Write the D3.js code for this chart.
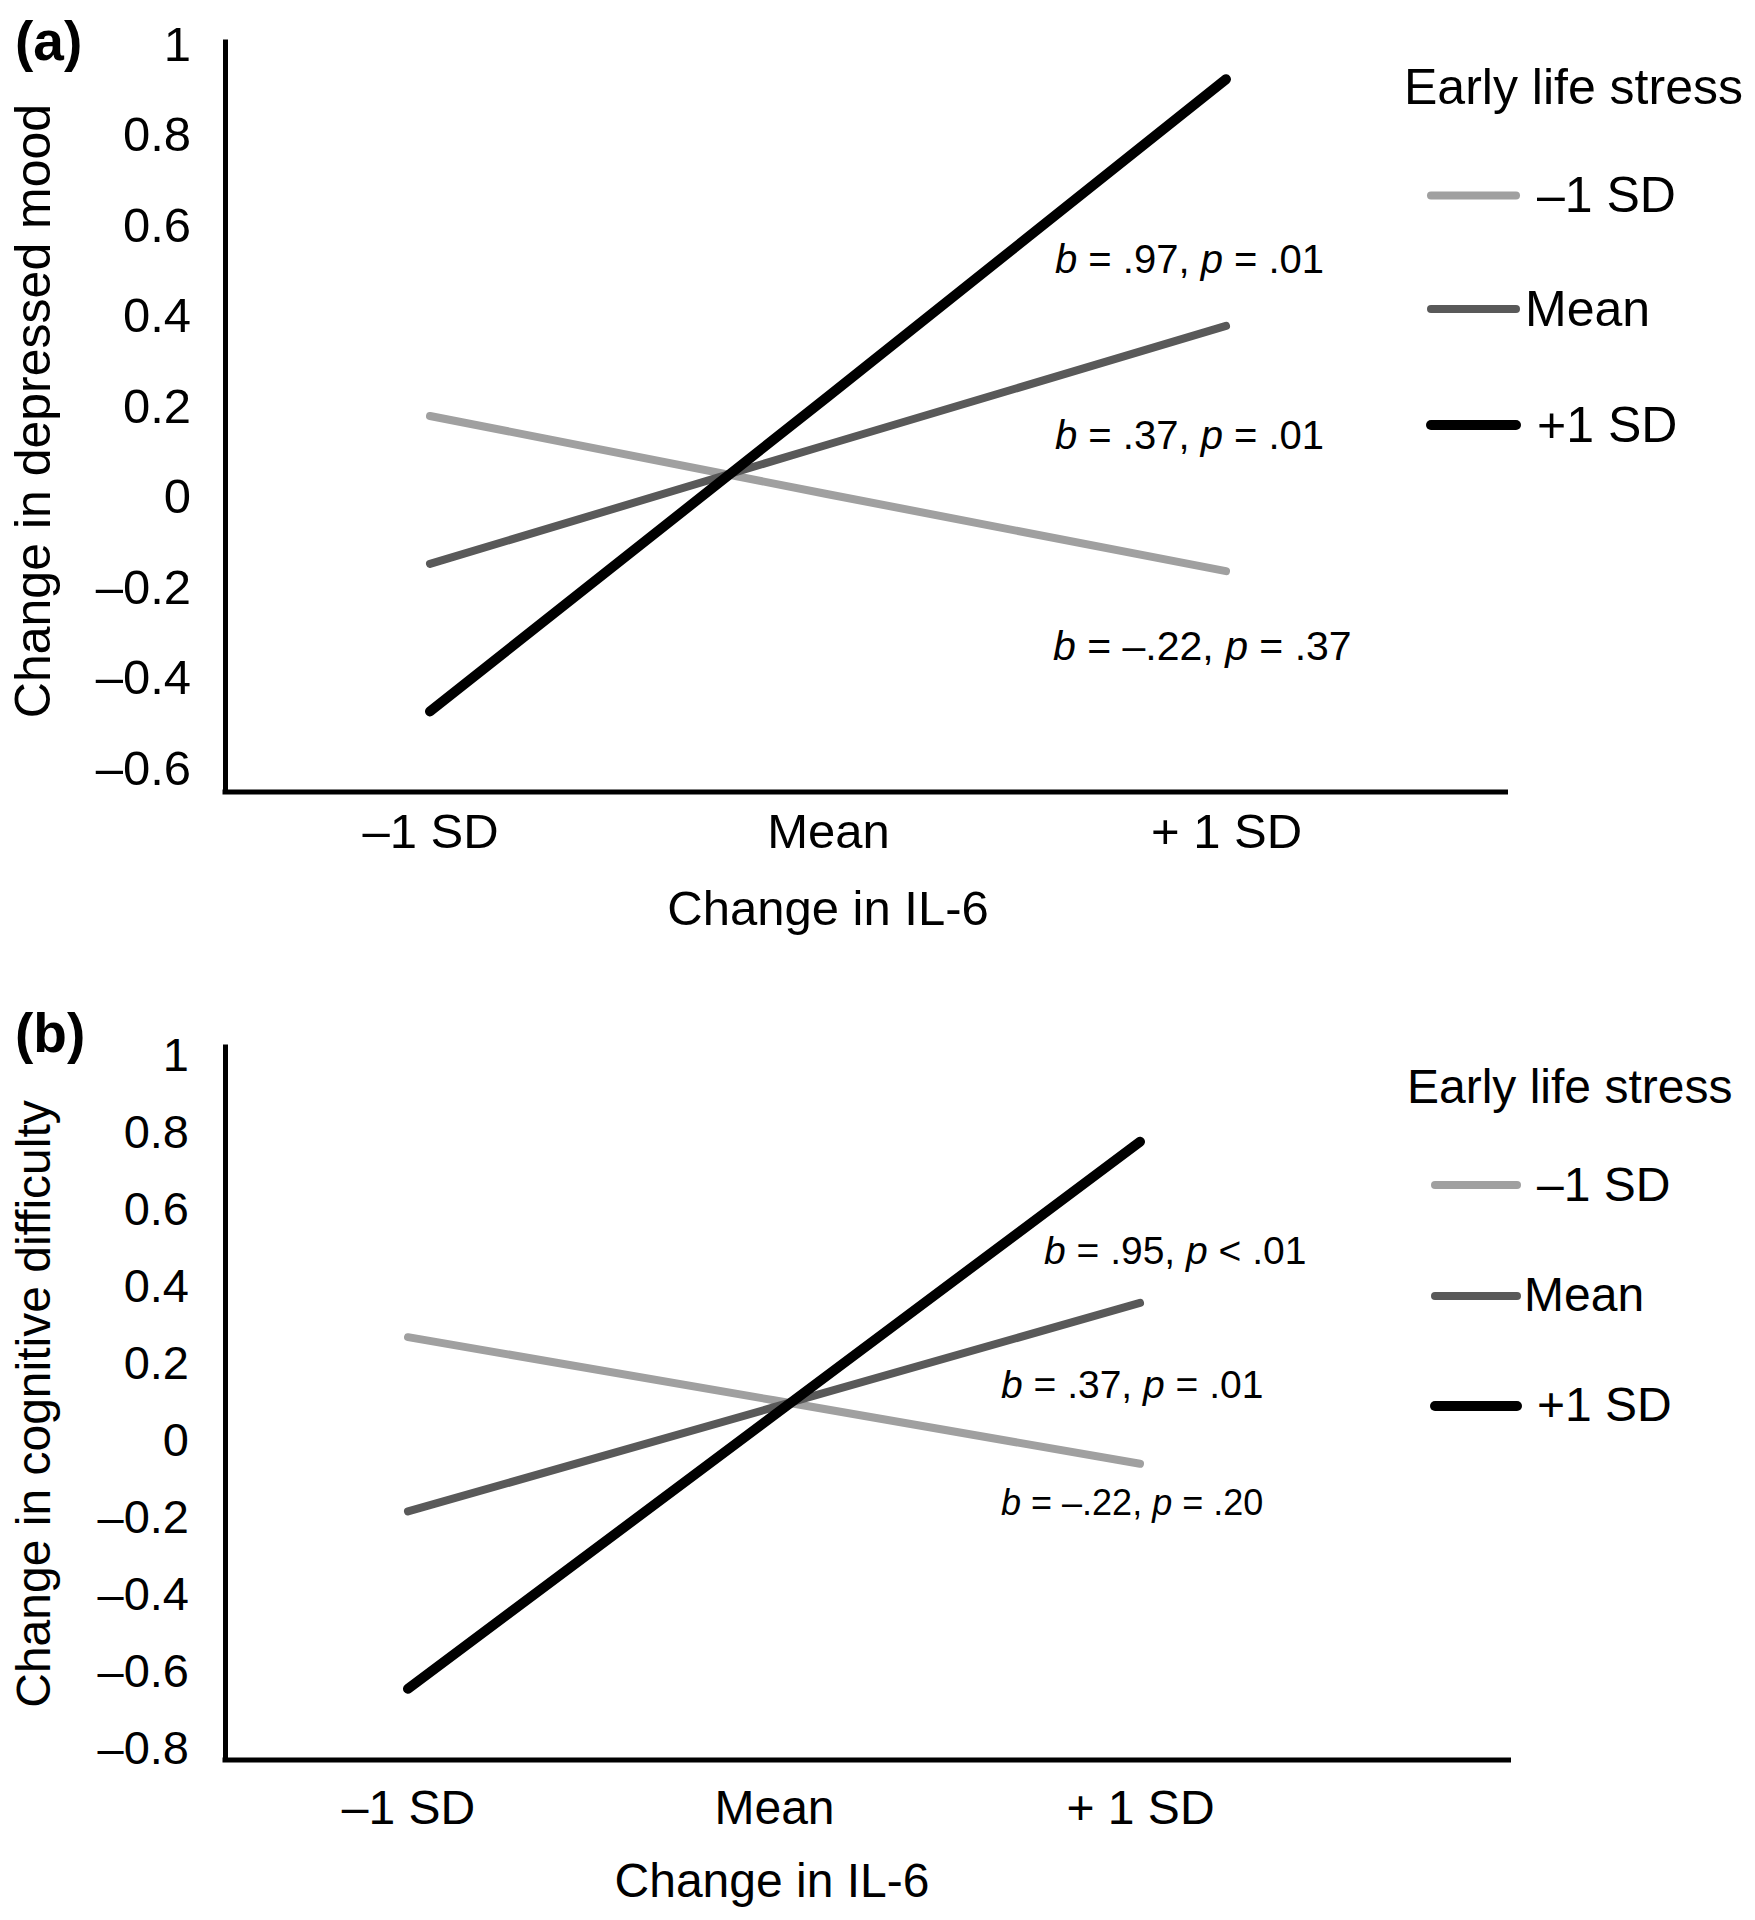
<!DOCTYPE html>
<html>
<head>
<meta charset="utf-8">
<script src="https://cdn.jsdelivr.net/npm/d3@7"></script>
<style>
  html, body { margin: 0; padding: 0; background: #fff; }
  svg { display: block; }
  text { font-family: "Liberation Sans", Arial, Helvetica, sans-serif; fill: #000; }
</style>
</head>
<body>
<svg id="chart" width="1755" height="1920"></svg>
<script>
// ---------------- DATA ----------------
const categories = ["–1 SD", "Mean", "+ 1 SD"];
const seriesNames = ["–1 SD", "Mean", "+1 SD"];
const legendTitle = "Early life stress";
const xTitle = "Change in IL-6";

// Panel (a): change in depressed mood
const moodLowELS  = [0.179, 0.006, -0.164];
const moodMeanELS = [-0.148, 0.116, 0.378];
const moodHighELS = [-0.474, 0.222, 0.923];
const moodTicks = [-0.6, -0.4, -0.2, 0, 0.2, 0.4, 0.6, 0.8, 1];
const moodStats = [
  { b: ".97", op: "=", p: ".01" },
  { b: ".37", op: "=", p: ".01" },
  { b: "–.22", op: "=", p: ".37" }
];

// Panel (b): change in cognitive difficulty
const cogLowELS  = [0.268, 0.104, -0.061];
const cogMeanELS = [-0.185, 0.086, 0.357];
const cogHighELS = [-0.646, 0.065, 0.776];
const cogTicks = [-0.8, -0.6, -0.4, -0.2, 0, 0.2, 0.4, 0.6, 0.8, 1];
const cogStats = [
  { b: ".95", op: "<", p: ".01" },
  { b: ".37", op: "=", p: ".01" },
  { b: "–.22", op: "=", p: ".20" }
];

// ---------------- STYLE / LAYOUT ----------------
const lineColors = ["#a0a0a0", "#595959", "#000000"];
const lineWidths = [8, 8, 10];

const panels = [
  {
    label: "(a)", yTitle: "Change in depressed mood",
    series: [moodLowELS, moodMeanELS, moodHighELS], ticks: moodTicks, stats: moodStats,
    yDomain: [-0.652, 1.012], yRange: [792, 39], axisX: 225, axisEnd: 1508, xRange: [430, 1226],
    tickFont: 49, tickPad: 34, xLabelPad: 21, xFont: 49,
    xTitleX: 828, xTitleY: 925, yTitleCy: 411, yTitleX: 50, yTitleFont: 50,
    labelY: 60,
    legX: 1404, legTitleY: 104, legTitleFont: 50, legFont: 50, legLineX: [1431, 1516], legLineY: [195.5, 309, 425],
    legTextX: [1537, 1525, 1537], legTextY: [212, 326, 442],
    statX: [1055, 1055, 1053], statY: [273, 449, 660], statFont: [40, 40, 41]
  },
  {
    label: "(b)", yTitle: "Change in cognitive difficulty",
    series: [cogLowELS, cogMeanELS, cogHighELS], ticks: cogTicks, stats: cogStats,
    yDomain: [-0.831, 1.030], yRange: [1760, 1044], axisX: 225, axisEnd: 1511, xRange: [408, 1140],
    tickFont: 47, tickPad: 36, xLabelPad: 30, xFont: 48,
    xTitleX: 772, xTitleY: 1897, yTitleCy: 1404, yTitleX: 50, yTitleFont: 48,
    labelY: 1052,
    legX: 1407, legTitleY: 1103, legTitleFont: 48, legFont: 48, legLineX: [1435, 1517], legLineY: [1185, 1296, 1406],
    legTextX: [1537, 1524, 1537], legTextY: [1201, 1311, 1421],
    statX: [1044, 1001, 1001], statY: [1264, 1398, 1515], statFont: [39, 39, 36]
  }
];

const fmtTick = v => {
  if (v === 0) return "0";
  const a = Math.abs(v);
  const s = a === 1 ? "1" : a.toFixed(1);
  return (v < 0 ? "–" : "") + s;
};

const svg = d3.select("#chart");

panels.forEach(P => {
  const g = svg.append("g");
  const y = d3.scaleLinear().domain(P.yDomain).range(P.yRange);
  const x = d3.scalePoint().domain(categories).range(P.xRange);
  const yBottom = P.yRange[0];

  // Y axis
  const yAxis = d3.axisLeft(y).tickValues(P.ticks).tickFormat(fmtTick)
    .tickSize(0).tickSizeOuter(0).tickPadding(P.tickPad);
  const yg = g.append("g").attr("transform", `translate(${P.axisX},0)`).call(yAxis);
  yg.select(".domain").attr("stroke", "#000").attr("stroke-width", 5);
  yg.selectAll("text").style("font-size", P.tickFont + "px")
    .style("font-family", '"Liberation Sans", Arial, sans-serif').attr("fill", "#000");

  // X axis (labels from the point scale, baseline drawn across the plot)
  const xAxis = d3.axisBottom(x).tickSize(0).tickSizeOuter(0).tickPadding(P.xLabelPad);
  const xg = g.append("g").attr("transform", `translate(0,${yBottom})`).call(xAxis);
  xg.select(".domain").remove();
  xg.selectAll("text").style("font-size", P.xFont + "px")
    .style("font-family", '"Liberation Sans", Arial, sans-serif').attr("fill", "#000");
  g.append("line")
    .attr("x1", P.axisX - 2.5).attr("x2", P.axisEnd)
    .attr("y1", yBottom).attr("y2", yBottom)
    .attr("stroke", "#000").attr("stroke-width", 5);

  // Series lines
  const line = d3.line().x((d, i) => x(categories[i])).y(d => y(d));
  P.series.forEach((vals, i) => {
    g.append("path").datum(vals)
      .attr("d", line)
      .attr("fill", "none")
      .attr("stroke", lineColors[i])
      .attr("stroke-width", lineWidths[i])
      .attr("stroke-linecap", "round")
      .attr("stroke-linejoin", "round");
  });

  // Axis titles
  g.append("text")
    .attr("x", P.xTitleX).attr("y", P.xTitleY)
    .attr("text-anchor", "middle")
    .style("font-size", P.xFont + "px")
    .text(xTitle);
  g.append("text")
    .attr("transform", `translate(${P.yTitleX},${P.yTitleCy}) rotate(-90)`)
    .attr("text-anchor", "middle")
    .style("font-size", P.yTitleFont + "px")
    .text(P.yTitle);

  // Panel label
  g.append("text")
    .attr("x", 15).attr("y", P.labelY)
    .style("font-size", "55px").style("font-weight", "bold")
    .text(P.label);

  // Legend
  g.append("text")
    .attr("x", P.legX).attr("y", P.legTitleY)
    .style("font-size", P.legTitleFont + "px")
    .text(legendTitle);
  seriesNames.forEach((name, i) => {
    g.append("line")
      .attr("x1", P.legLineX[0]).attr("x2", P.legLineX[1])
      .attr("y1", P.legLineY[i]).attr("y2", P.legLineY[i])
      .attr("stroke", lineColors[i]).attr("stroke-width", lineWidths[i])
      .attr("stroke-linecap", "round");
    g.append("text")
      .attr("x", P.legTextX[i]).attr("y", P.legTextY[i])
      .style("font-size", P.legFont + "px")
      .text(name);
  });

  // Simple-slope annotations
  P.stats.forEach((s, i) => {
    const t = g.append("text")
      .attr("x", P.statX[i]).attr("y", P.statY[i])
      .style("font-size", P.statFont[i] + "px");
    t.append("tspan").style("font-style", "italic").text("b");
    t.append("tspan").text(` = ${s.b}, `);
    t.append("tspan").style("font-style", "italic").text("p");
    t.append("tspan").text(` ${s.op} ${s.p}`);
  });
});
</script>
</body>
</html>
